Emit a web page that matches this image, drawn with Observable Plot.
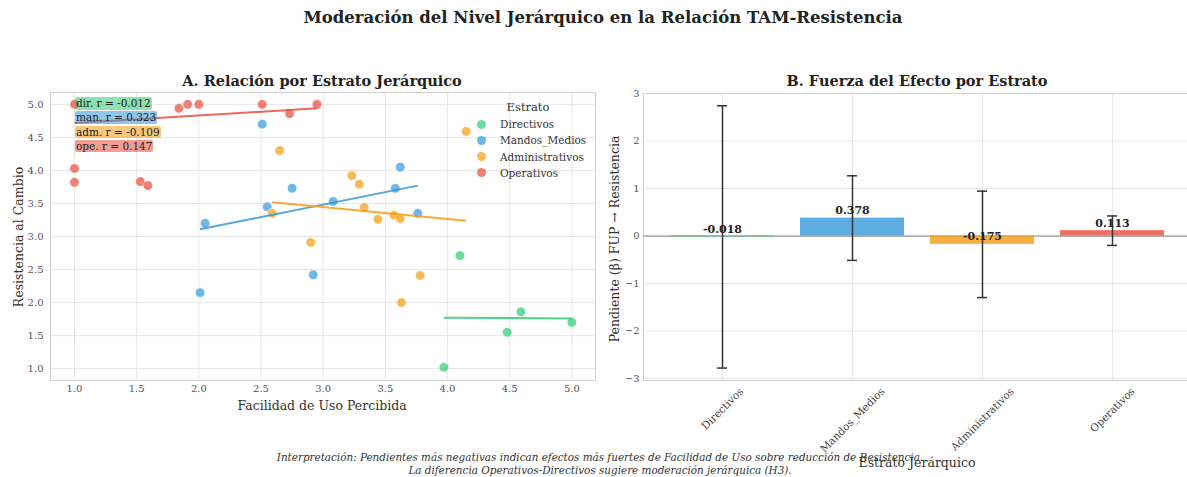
<!DOCTYPE html>
<html><head><meta charset="utf-8">
<script src="https://cdn.jsdelivr.net/npm/d3@7"></script>
<script src="https://cdn.jsdelivr.net/npm/@observablehq/plot@0.6"></script>
<style>
body{margin:0;overflow:hidden;background:#fff;font-family:"DejaVu Serif",serif;}
#root{position:relative;width:1187px;height:477px;overflow:hidden;background:#fff;}
.abs{position:absolute;white-space:nowrap;}
.c{transform:translate(-50%,-50%);}
svg{position:absolute;}
</style></head><body><div id="root"></div>
<script>
// ---------- data ----------
const estratos = ["Directivos", "Mandos_Medios", "Administrativos", "Operativos"];
const colores = ["#2ecc71", "#3498db", "#f39c12", "#e74c3c"];

const dirX = [4.10, 4.59, 4.48, 5.00, 3.97];
const dirY = [2.71, 1.86, 1.55, 1.70, 1.02];
const manX = [2.05, 2.51, 2.75, 2.55, 3.08, 3.62, 3.58, 3.76, 2.01, 2.92];
const manY = [3.20, 4.70, 3.73, 3.45, 3.53, 4.05, 3.73, 3.35, 2.15, 2.42];
const admX = [2.65, 2.59, 2.90, 4.15, 3.23, 3.29, 3.33, 3.44, 3.57, 3.62, 3.78, 3.63];
const admY = [4.30, 3.35, 2.91, 4.59, 3.92, 3.79, 3.44, 3.26, 3.32, 3.27, 2.41, 2.00];
const opeX = [1.00, 1.00, 1.00, 1.53, 1.59, 1.84, 1.91, 2.00, 2.51, 2.73, 2.95];
const opeY = [5.00, 4.03, 3.82, 3.83, 3.77, 4.94, 5.00, 5.00, 5.00, 4.86, 5.00];

// fitted regression lines (start / end) per estrato
const fitX1 = [3.97, 2.01, 2.59, 1.00];
const fitY1 = [1.77, 3.11, 3.52, 4.72];
const fitX2 = [5.00, 3.76, 4.15, 2.95];
const fitY2 = [1.76, 3.77, 3.24, 4.94];

const corrLabels = ["dir. r = -0.012", "man. r = 0.323", "adm. r = -0.109", "ope. r = 0.147"];

const pendientes = [-0.018, 0.378, -0.175, 0.113];
const errores = [2.76, 0.89, 1.12, 0.31];

const ticksA = [1.0, 1.5, 2.0, 2.5, 3.0, 3.5, 4.0, 4.5, 5.0];
const ticksB = [-3, -2, -1, 0, 1, 2, 3];

const titulo = "Moderación del Nivel Jerárquico en la Relación TAM-Resistencia";
const tituloA = "A. Relación por Estrato Jerárquico";
const tituloB = "B. Fuerza del Efecto por Estrato";
const nota1 = "Interpretación: Pendientes más negativas indican efectos más fuertes de Facilidad de Uso sobre reducción de Resistencia.";
const nota2 = "La diferencia Operativos-Directivos sugiere moderación jerárquica (H3).";

// ---------- tables ----------
const xs = [dirX, manX, admX, opeX], ys = [dirY, manY, admY, opeY];
const puntos = [];
estratos.forEach((e, i) => xs[i].forEach((x, j) => puntos.push({estrato: e, x, y: ys[i][j]})));
const ajustes = estratos.map((e, i) => ({estrato: e, x1: fitX1[i], y1: fitY1[i], x2: fitX2[i], y2: fitY2[i]}));
const barras = estratos.map((e, i) => ({estrato: e, b: pendientes[i], lo: pendientes[i] - errores[i], hi: pendientes[i] + errores[i]}));

const root = document.getElementById("root");
const FONT = '"DejaVu Serif", serif';
function addText(txt, x, y, style, cls = "abs c") {
  const d = document.createElement("div");
  d.className = cls; d.textContent = txt;
  d.style.left = x + "px"; d.style.top = y + "px";
  Object.assign(d.style, style);
  root.appendChild(d); return d;
}
const rgba = (hex, a) => { const c = d3.rgb(hex); c.opacity = a; return c.formatRgb(); };

// ---------- Panel A ----------
const plotA = Plot.plot({
  width: 600, height: 360,
  marginLeft: 50, marginRight: 5, marginTop: 32, marginBottom: 40,
  style: {fontFamily: FONT, fontSize: "10px", color: "#555", background: "transparent", overflow: "visible"},
  x: {domain: [0.807, 5.19], label: null},
  y: {domain: [0.82, 5.18], label: null},
  color: {domain: estratos, range: colores},
  marks: [
    Plot.gridX(ticksA, {stroke: "#e6e6e6", strokeOpacity: 1}),
    Plot.gridY(ticksA, {stroke: "#e6e6e6", strokeOpacity: 1}),
    Plot.frame({stroke: "#d0d0d0"}),
    Plot.axisX(ticksA, {tickSize: 0, tickPadding: 4, tickFormat: d3.format(".1f"), label: null}),
    Plot.axisY(ticksA, {tickSize: 0, tickPadding: 7, tickFormat: d3.format(".1f"), label: null}),
    Plot.dot(puntos, {x: "x", y: "y", fill: "estrato", fillOpacity: 0.7, r: 4.8, stroke: "white", strokeWidth: 0.6}),
    Plot.link(ajustes, {x1: "x1", y1: "y1", x2: "x2", y2: "y2", stroke: "estrato", strokeWidth: 2, strokeOpacity: 0.85})
  ]
});
plotA.style.left = "0px"; plotA.style.top = "60px";
root.appendChild(plotA);

// ---------- Panel B ----------
const plotB = Plot.plot({
  width: 600, height: 417,
  marginLeft: 53, marginRight: 0, marginTop: 33, marginBottom: 97,
  style: {fontFamily: FONT, fontSize: "10px", color: "#555", background: "transparent", overflow: "visible"},
  x: {domain: estratos, paddingInner: 0.2, paddingOuter: 0.2, label: null},
  y: {domain: [-3.04, 3.0], label: null},
  color: {domain: estratos, range: colores},
  marks: [
    Plot.gridX(estratos, {stroke: "#e6e6e6", strokeOpacity: 1}),
    Plot.gridY(ticksB, {stroke: "#e6e6e6", strokeOpacity: 1}),
    Plot.frame({stroke: "#d0d0d0"}),
    Plot.axisY(ticksB, {tickSize: 0, tickPadding: 4, tickFormat: d3.format("d"), label: null}),
    Plot.axisX(estratos, {tickSize: 0, tickPadding: 4, tickRotate: -45, textAnchor: "middle", label: null, fontSize: 10.5, fill: "#444"}),
    Plot.ruleY([0], {stroke: "#999", strokeWidth: 1.3}),
    Plot.barY(barras, {x: "estrato", y: "b", fill: "estrato", fillOpacity: 0.8}),
    Plot.ruleX(barras, {x: "estrato", y1: "lo", y2: "hi", stroke: "#333", strokeWidth: 1.5}),
    Plot.tickY(barras, {x: "estrato", y: "lo", stroke: "#333", strokeWidth: 1.5, insetLeft: 47, insetRight: 47}),
    Plot.tickY(barras, {x: "estrato", y: "hi", stroke: "#333", strokeWidth: 1.5, insetLeft: 47, insetRight: 47}),
    Plot.text(barras, {x: "estrato", y: "b", text: d => d3.format(".3f")(d.b).replace("−", "-"), lineAnchor: "bottom", dy: -4,
      fontWeight: "bold", fontSize: 11, fill: "#222"})
  ]
});
plotB.style.left = "590px"; plotB.style.top = "60px";
root.appendChild(plotB);

// align rotated tick labels like matplotlib (bbox centered on tick, top under axis)
{
  const rootRect = root.getBoundingClientRect();
  const targetTop = 385;
  plotB.querySelectorAll('g[aria-label="x-axis tick label"] text').forEach(t => {
    const r = t.getBoundingClientRect();
    const dy = targetTop - (r.top - rootRect.top);
    t.setAttribute("transform", `translate(0,${dy}) ` + (t.getAttribute("transform") || ""));
  });
}

// ---------- HTML text ----------
addText(titulo, 603, 17, {fontSize: "16.5px", fontWeight: "bold", color: "#222"});
addText(tituloA, 322, 80, {fontSize: "14.5px", fontWeight: "bold", color: "#222"});
addText(tituloB, 917, 80, {fontSize: "14.5px", fontWeight: "bold", color: "#222"});
addText("Facilidad de Uso Percibida", 322, 405, {fontSize: "12.5px", color: "#333"});
addText("Resistencia al Cambio", 18, 237, {fontSize: "12.5px", color: "#333", transform: "translate(-50%,-50%) rotate(-90deg)"});
addText("Pendiente (β) FUP → Resistencia", 614, 239, {fontSize: "12.5px", color: "#333", transform: "translate(-50%,-50%) rotate(-90deg)"});
addText("Estrato Jerárquico", 917, 462, {fontSize: "12.5px", color: "#333"});
addText(nota1, 600, 457, {fontSize: "10.4px", fontStyle: "italic", color: "#333"});
addText(nota2, 600, 470, {fontSize: "10.4px", fontStyle: "italic", color: "#333"});

// correlation boxes
corrLabels.forEach((s, i) => {
  addText(s, 75, 97 + i * 14.3, {fontSize: "10.5px", color: "#222", background: rgba(colores[i], 0.55),
    padding: "0 1px", lineHeight: "12.5px", borderRadius: "2px"}, "abs");
});

// legend
addText("Estrato", 528, 107, {fontSize: "11.5px", color: "#333"});
estratos.forEach((e, i) => {
  const y = 124 + i * 16.3;
  const m = document.createElement("div");
  m.className = "abs";
  Object.assign(m.style, {left: "477px", top: (y - 4.5) + "px", width: "9px", height: "9px", borderRadius: "50%", background: rgba(colores[i], 0.7)});
  root.appendChild(m);
  addText(e, 500, y, {fontSize: "10.5px", color: "#333", transform: "translate(0,-50%)"}, "abs");
});
</script>
</body></html>
